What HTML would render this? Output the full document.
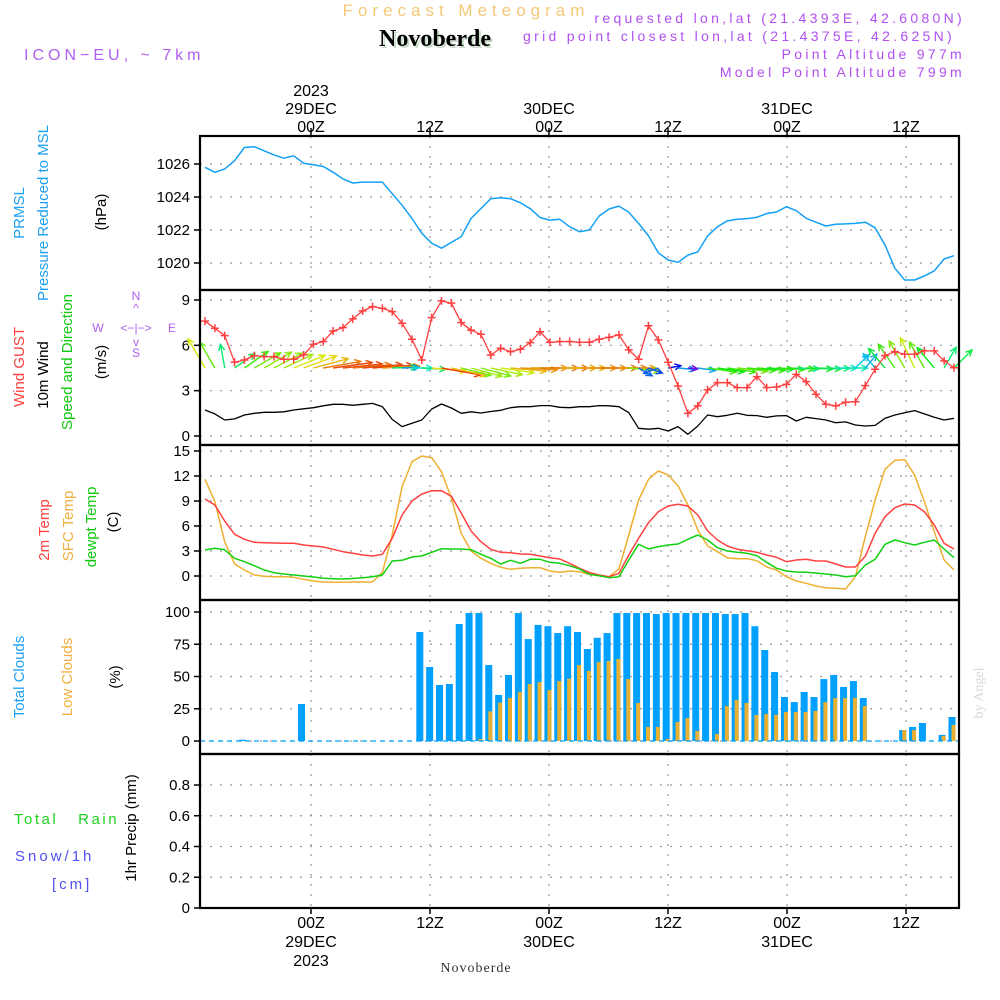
<!DOCTYPE html>
<html><head><meta charset="utf-8"><style>
html,body{margin:0;padding:0;background:#fff;}
svg{display:block;font-family:"Liberation Sans",sans-serif;}
</style></head><body>
<svg id="chart" width="1000" height="1000" viewBox="0 0 1000 1000" xmlns="http://www.w3.org/2000/svg">
<rect x="0" y="0" width="1000" height="1000" fill="#fff"/>
<text x="466" y="16" font-size="17" fill="#f5c878" text-anchor="middle" letter-spacing="5">Forecast Meteogram</text>
<text x="437" y="48" font-size="24" font-weight="bold" font-family="Liberation Serif,serif" fill="#c8dcc8" text-anchor="middle">Novoberde</text>
<text x="435" y="46" font-size="24" font-weight="bold" font-family="Liberation Serif,serif" fill="#000" text-anchor="middle">Novoberde</text>
<text x="24" y="60" font-size="16" fill="#b060f0" letter-spacing="4">ICON−EU, ~ 7km</text>
<g font-size="14" fill="#b050f0" text-anchor="end" letter-spacing="3.3">
<text x="965" y="23">requested lon,lat (21.4393E, 42.6080N)</text>
<text x="955" y="41">grid point closest lon,lat (21.4375E, 42.625N)</text>
<text x="965" y="59">Point Altitude 977m</text>
<text x="965" y="77">Model Point Altitude 799m</text>
</g>
<g id="panels"></g>
<g font-size="15">
<text transform="translate(24,213) rotate(-90)" text-anchor="middle" fill="#1ea0f0">PRMSL</text>
<text transform="translate(48,213) rotate(-90)" text-anchor="middle" fill="#1ea0f0">Pressure Reduced to MSL</text>
<text transform="translate(106,212) rotate(-90)" text-anchor="middle" fill="#000">(hPa)</text>
<text transform="translate(24,367) rotate(-90)" text-anchor="middle" fill="#ff4040">Wind GUST</text>
<text transform="translate(48,375) rotate(-90)" text-anchor="middle" fill="#000">10m Wind</text>
<text transform="translate(72,362) rotate(-90)" text-anchor="middle" fill="#10c810">Speed and Direction</text>
<text transform="translate(106,362) rotate(-90)" text-anchor="middle" fill="#000">(m/s)</text>
<g fill="#b060f0" font-size="12" text-anchor="middle">
<text x="136" y="300">N</text><text x="136" y="312">^</text>
<text x="98" y="332">W</text><text x="136" y="332">&lt;−|−&gt;</text><text x="172" y="332">E</text>
<text x="136" y="346">v</text><text x="136" y="357">S</text>
</g>
<text transform="translate(49,530) rotate(-90)" text-anchor="middle" fill="#ff4040">2m Temp</text>
<text transform="translate(73,526) rotate(-90)" text-anchor="middle" fill="#f0b040">SFC Temp</text>
<text transform="translate(96,527) rotate(-90)" text-anchor="middle" fill="#10c810">dewpt Temp</text>
<text transform="translate(118,522) rotate(-90)" text-anchor="middle" fill="#000">(C)</text>
<text transform="translate(24,677) rotate(-90)" text-anchor="middle" fill="#1ea0f0">Total Clouds</text>
<text transform="translate(72,677) rotate(-90)" text-anchor="middle" fill="#f0b040">Low Clouds</text>
<text transform="translate(120,677) rotate(-90)" text-anchor="middle" fill="#000">(%)</text>
<text x="14" y="824" fill="#20d020" letter-spacing="2.5">Total&#160;&#160;&#160;Rain</text>
<text x="15" y="861" fill="#5050f0" letter-spacing="3">Snow/1h</text>
<text x="52" y="889" fill="#5050f0" letter-spacing="3">[cm]</text>
<text transform="translate(136,828) rotate(-90)" text-anchor="middle" fill="#000">1hr Precip (mm)</text>
</g>
<text transform="translate(983,693) rotate(-90)" text-anchor="middle" font-family="Liberation Serif,serif" font-size="14" fill="#d8d8d8">by Angel</text>
<text x="476" y="972" font-family="Liberation Serif,serif" font-size="14" fill="#333" text-anchor="middle" letter-spacing="1">Novoberde</text>
</svg>
<script>
const pressure=[1025.8,1025.5,1025.7,1026.2,1027.0,1027.05,1026.8,1026.55,1026.35,1026.5,1026.05,1025.95,1025.85,1025.5,1025.1,1024.85,1024.9,1024.9,1024.9,1024.2,1023.5,1022.7,1021.8,1021.2,1020.9,1021.25,1021.6,1022.7,1023.3,1023.9,1023.95,1023.9,1023.65,1023.3,1022.75,1022.6,1022.65,1022.2,1021.9,1022.0,1022.85,1023.27,1023.45,1023.07,1022.4,1021.64,1020.62,1020.18,1020.04,1020.48,1020.67,1021.64,1022.2,1022.55,1022.65,1022.69,1022.77,1023.0,1023.09,1023.41,1023.17,1022.71,1022.47,1022.24,1022.35,1022.37,1022.4,1022.47,1022.14,1021.09,1019.68,1018.97,1018.97,1019.21,1019.53,1020.24,1020.44];
const gust=[7.6,7.13,6.64,4.88,5.03,5.32,5.25,5.25,5.08,5.08,5.36,6.07,6.25,6.95,7.17,7.75,8.28,8.56,8.45,8.23,7.46,6.4,5.03,7.83,8.94,8.79,7.5,7.0,6.73,5.36,5.81,5.58,5.74,6.18,6.9,6.2,6.25,6.25,6.2,6.2,6.4,6.53,6.69,5.7,5.08,7.3,6.36,4.88,3.31,1.5,1.99,3.05,3.53,3.53,3.2,3.2,3.93,3.2,3.24,3.42,4.08,3.6,2.76,2.1,1.99,2.23,2.27,3.33,4.42,5.32,5.58,5.41,5.41,5.63,5.63,4.97,4.52];
const wind10m=[1.72,1.46,1.06,1.13,1.39,1.5,1.57,1.57,1.6,1.72,1.8,1.87,2.0,2.1,2.1,2.03,2.1,2.16,1.94,1.1,0.62,0.84,1.06,1.79,2.12,1.85,1.5,1.6,1.52,1.62,1.7,1.87,1.94,1.94,2.01,2.01,1.9,1.87,1.94,1.94,2.01,2.0,1.94,1.54,0.51,0.45,0.51,0.33,0.62,0.11,0.66,1.39,1.28,1.37,1.5,1.37,1.35,1.24,1.33,1.35,0.99,1.24,1.15,1.06,0.88,0.93,0.73,0.66,0.7,1.17,1.39,1.54,1.68,1.46,1.24,1.06,1.17];
const windDir=[120,120,100,35,35,30,30,28,25,22,20,15,10,8,6,5,5,4,3,2,2,0,-3,-5,-10,-12,-14,-15,-15,-12,-8,-5,-3,0,0,0,0,0,0,0,0,0,0,-5,-30,-20,200,10,-5,-5,-8,-8,-8,-8,-6,-5,-5,-3,-3,-2,-2,-2,-2,-1,0,0,45,50,130,130,125,120,115,120,130,60,45];
const temp2m=[9.24,8.52,6.6,5.0,4.4,4.04,4.0,3.96,3.92,3.92,3.72,3.6,3.48,3.2,2.92,2.72,2.52,2.4,2.6,4.52,7.32,9.0,9.84,10.24,10.24,9.56,7.56,5.4,4.12,3.2,2.84,2.8,2.64,2.6,2.4,2.2,2.04,1.52,0.92,0.42,0.12,-0.08,0.32,2.52,4.52,6.4,7.72,8.4,8.6,8.4,7.32,5.4,4.32,3.6,3.2,3.04,2.84,2.52,2.24,1.72,1.92,2.0,1.8,1.8,1.44,1.08,1.08,2.36,5.12,7.12,8.2,8.64,8.52,7.72,6.12,3.92,3.24];
const sfcTemp=[11.6,8.92,4.12,1.44,0.72,0.12,-0.04,-0.08,-0.08,-0.16,-0.4,-0.6,-0.72,-0.76,-0.76,-0.72,-0.72,-0.72,0.44,4.92,10.72,13.72,14.4,14.2,12.52,9.32,5.12,3.0,2.12,1.52,1.04,0.8,0.92,1.0,1.0,0.6,0.44,0.6,0.52,0.2,0.04,-0.08,0.84,4.92,9.12,11.6,12.6,12.12,10.84,8.52,5.52,3.6,2.92,2.2,2.08,2.08,1.84,1.08,0.72,-0.08,-0.6,-0.88,-1.2,-1.4,-1.48,-1.56,-0.08,4.72,9.12,12.8,13.88,13.96,12.12,8.92,5.32,1.92,0.72];
const dewpt=[3.12,3.32,3.14,2.12,1.72,1.24,0.72,0.4,0.24,0.12,0.0,-0.12,-0.28,-0.32,-0.36,-0.3,-0.2,-0.08,0.12,1.8,1.88,2.28,2.4,2.84,3.28,3.24,3.24,3.16,2.6,2.12,1.44,1.88,1.52,2.0,2.0,1.64,1.52,1.24,0.84,0.2,0.04,-0.2,-0.08,1.92,3.8,3.24,3.52,3.72,3.84,4.4,4.92,4.32,3.4,3.0,2.84,2.72,2.44,1.64,0.92,0.6,0.48,0.44,0.36,0.24,0.12,-0.08,0.04,1.32,2.0,3.8,4.32,4.0,3.72,4.04,4.32,3.24,2.2];
const totalClouds=[0,0,0,0,1,0,0,0,0,0,28.7,0,0,0,0,0,0,0,0,0,0,0,84.5,57.4,43.4,44.2,90.7,99.2,99.2,58.9,35.7,51.2,99.2,79,90,89,83.7,89,84.5,71.3,80,83.7,99.2,99.2,99.2,99.2,98.4,99.2,99.2,99.2,99.2,99.2,99.2,98.4,98.4,99.2,89,70.5,53.5,34.1,30.2,38,34.1,48,51.2,41.9,46.5,33.3,0,0,0,8.5,10.9,14,0,4.7,18.6];
const lowClouds=[0,0,0,0,0,0,0,0,0,0,0,0,0,0,0,0,0,0,0,0,0,0,0,0,0,0,0,0,1.5,23,29.7,33.3,38,44.2,45.7,39.5,46.5,48.3,58.9,54.3,61.2,62,63.6,48,29.5,10.9,10.9,1.5,14.7,17.8,7.8,0,5.4,27,31.8,29.5,20.2,20.9,20.2,22.5,22.5,22.5,23.3,30.2,33.3,33.3,33.3,27.1,0,0,0,8.5,8.5,0,0,3.9,12.4];
const precip=new Array(77).fill(0);
const pTicks=[1026,1024,1022,1020];
const wTicks=[9,6,3,0];
const tTicks=[15,12,9,6,3,0];
const cTicks=[100,75,50,25,0];
const rTicks=[0.8,0.6,0.4,0.2,0];
const timeHours=[0,12,24,36,48,60];
const topLabels=[["2023","29DEC","00Z"],["","","12Z"],["","30DEC","00Z"],["","","12Z"],["","31DEC","00Z"],["","","12Z"]];
const botLabels=[["00Z","29DEC","2023"],["12Z","",""],["00Z","30DEC",""],["12Z","",""],["00Z","31DEC",""],["12Z","",""]];

const NS="http://www.w3.org/2000/svg";
const svg=document.getElementById('panels');
const X0=200,X1=959;
const xi=i=>205+i*9.855;
const xh=h=>311+h*9.917;
function lin(d0,d1,r0,r1){return v=>r0+(v-d0)*(r1-r0)/(d1-d0);}
const yP=lin(1026,1020,164,263), yW=lin(9,0,300,436), yT=lin(15,0,451,576), yC=lin(100,0,612,741), yR=lin(0.8,0,785,908);
function el(tag,attrs,parent){const e=document.createElementNS(NS,tag);for(const k in attrs)e.setAttribute(k,attrs[k]);(parent||svg).appendChild(e);return e;}
const panels=[[136,290,yP,pTicks,'pressure-panel'],[290,445,yW,wTicks,'wind-panel'],[445,600,yT,tTicks,'temperature-panel'],[600,754,yC,cTicks,'cloud-panel'],[754,908,yR,rTicks,'precip-panel']];
panels.forEach(p=>{
  const g=el('g',{});
  
  
  p[3].forEach(t=>{
    const y=p[2](t);
    const gl=el('line',{x1:X0,x2:X1,y1:y,y2:y,stroke:'#999','stroke-width':1.2,'stroke-dasharray':'2,8'},g);
    
    
    const tk=el('line',{x1:X0-6,x2:X0,y1:y,y2:y,stroke:'#000','stroke-width':1.5},g);
    
    
    const tx=el('text',{x:X0-10,y:y+5,'font-size':15,'text-anchor':'end',fill:'#000'},g);
    tx.textContent=String(t);
    
    
  });
  timeHours.forEach(h=>{
    const vl=el('line',{x1:xh(h),x2:xh(h),y1:p[0],y2:p[1],stroke:'#999','stroke-width':1.2,'stroke-dasharray':'2,8'},g);
    
    
  });
});
function line(data,ys,color,name,w){
  const d=data.map((v,i)=>(i?'L':'M')+xi(i).toFixed(1)+','+ys(v).toFixed(1)).join('');
  const pth=el('path',{d:d,fill:'none',stroke:color,'stroke-width':w||1.5,'stroke-linejoin':'round'});
  
  
}
line(pressure,yP,'#14a0f5','pressure-line');
totalClouds.forEach((v,i)=>{
  const cx=xi(i)-2;
  const r=el('rect',{x:cx-3.5,y:yC(v),width:7,height:Math.max(0,yC(0)-yC(v)),fill:'#00a0ff'});
  
  
});
lowClouds.forEach((v,i)=>{
  const cx=xi(i)-1;
  const r=el('rect',{x:cx-1.5,y:yC(v),width:4,height:Math.max(0,yC(0)-yC(v)),fill:'#e8b030'});
  
  
});
const zl=el('line',{x1:X0,x2:X1,y1:yC(0),y2:yC(0),stroke:'#00a0ff','stroke-width':1.2,'stroke-dasharray':'5,4'});


windDir.forEach((a,i)=>{
  const s=wind10m[i];
  const hue=Math.max(15,Math.min(275,280-s*125));
  const col='hsl('+hue+',90%,48%)';
  const len=Math.max(10,15*s+8);
  const x0=xi(i),y0=368,r=a*Math.PI/180;
  const x1=x0+len*Math.cos(r),y1=y0-len*Math.sin(r);
  const ang=Math.atan2(y1-y0,x1-x0);
  const h1x=x1-7*Math.cos(ang-0.45),h1y=y1-7*Math.sin(ang-0.45),h2x=x1-7*Math.cos(ang+0.45),h2y=y1-7*Math.sin(ang+0.45);
  const ar=el('path',{d:`M${x0},${y0}L${x1},${y1}M${h1x},${h1y}L${x1},${y1}L${h2x},${h2y}`,stroke:col,'stroke-width':1.4,fill:'none'});
  
  
});
line(wind10m,yW,'#000','wind-speed-line',1.3);
line(gust,yW,'#ff4040','wind-gust-line',1.3);
gust.forEach((v,i)=>{
  const x=xi(i),y=yW(v);
  const m=el('path',{d:`M${x-4},${y}L${x+4},${y}M${x},${y-4}L${x},${y+4}`,stroke:'#ff4040','stroke-width':1.5});
  
  
});
line(sfcTemp,yT,'#eeb030','sfc-temp-line');
line(temp2m,yT,'#ff4040','temp-2m-line');
line(dewpt,yT,'#10d010','dewpoint-line');
const pz=el('path',{d:precip.map((v,i)=>(i?'L':'M')+xi(i)+','+yR(v)).join(''),stroke:'#000','stroke-width':1.5,'stroke-dasharray':'6,3',fill:'none'});


panels.forEach(p=>{
  const f=el('rect',{x:X0,y:p[0],width:X1-X0,height:p[1]-p[0],fill:'none',stroke:'#000','stroke-width':2.2});
  
  
});
timeHours.forEach((h,k)=>{
  const x=xh(h);
  const t1=el('line',{x1:x,x2:x,y1:128,y2:136,stroke:'#000','stroke-width':1.5});
  
  
  const t2=el('line',{x1:x,x2:x,y1:908,y2:914,stroke:'#000','stroke-width':1.5});
  
  
  topLabels[k].forEach((s,j)=>{if(!s)return;
    const t=el('text',{x:x,y:96+j*18,'font-size':16,'text-anchor':'middle',fill:'#000'});
    t.textContent=s;
    
    
  });
  botLabels[k].forEach((s,j)=>{if(!s)return;
    const t=el('text',{x:x,y:928+j*19,'font-size':16,'text-anchor':'middle',fill:'#000'});
    t.textContent=s;
    
    
  });
});
</script>
</body></html>
